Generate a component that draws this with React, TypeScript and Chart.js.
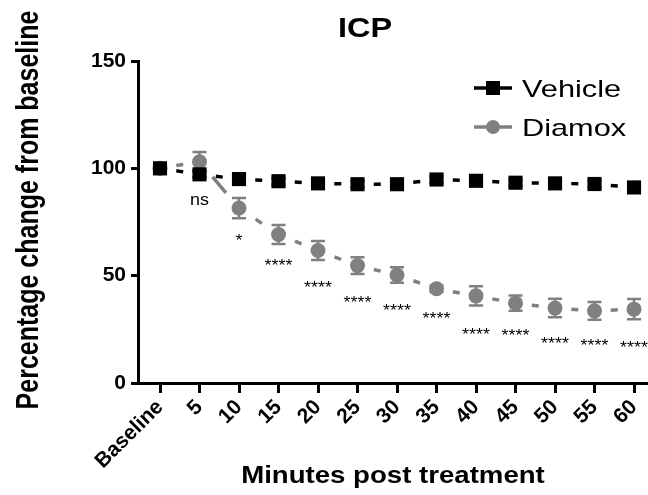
import React, { useEffect, useRef } from "react";
import { Chart, registerables } from "chart.js";

Chart.register(...registerables);

// ---- data ----
const xLabels = ["Baseline", "5", "10", "15", "20", "25", "30", "35", "40", "45", "50", "55", "60"];
const vehicleMean = [100, 97.2, 95, 94, 93, 92.6, 92.6, 94.8, 94.2, 93.3, 93, 92.7, 91.1];
const vehicleSem = [0, 1.5, 1.5, 1.5, 1.5, 1.5, 1.5, 1.5, 1.5, 1.5, 1.5, 1.5, 1.5];
const diamoxMean = [100, 103.1, 81.5, 69.2, 61.7, 54.7, 50.3, 43.9, 40.6, 37.2, 34.9, 33.6, 34.4];
const diamoxSem = [0, 4.5, 4.7, 4.4, 4.4, 3.9, 3.6, 1.5, 4.5, 3.6, 4.3, 4.1, 4.7];
const sigLabels = ["", "ns", "*", "****", "****", "****", "****", "****", "****", "****", "****", "****", "****"];
const sigLabelY = [null, 82.8, 63.8, 52.1, 42.1, 34.8, 31.2, 27.4, 20.1, 19.6, 15.7, 15.0, 13.9];
const yTicks = [0, 50, 100, 150];
const seriesNames = ["Vehicle", "Diamox"];
const chartTitle = "ICP";
const xTitle = "Minutes post treatment";
const yTitle = "Percentage change from baseline";

const FONT = "'Liberation Sans', Arial, Helvetica, sans-serif";
const BLACK = "#000000";
const GREY = "#808080";

function stretchedText(
  ctx: CanvasRenderingContext2D,
  text: string,
  x: number,
  y: number,
  font: string,
  sx: number,
  align: CanvasTextAlign,
  color: string,
  rotate = 0
) {
  ctx.save();
  ctx.translate(x, y);
  if (rotate) {
    ctx.rotate(rotate);
    ctx.scale(1, sx);
  } else {
    ctx.scale(sx, 1);
  }
  ctx.font = font;
  ctx.fillStyle = color;
  ctx.textAlign = align;
  ctx.textBaseline = "alphabetic";
  ctx.fillText(text, 0, 0);
  ctx.restore();
}

function segDash(ctx: any) {
  const p0 = ctx.p0;
  const p1 = ctx.p1;
  const L = Math.hypot(p1.x - p0.x, p1.y - p0.y);
  const D = Math.max(7, L - 40);
  return [D, 2000];
}
function segDashOffset(ctx: any) {
  const p0 = ctx.p0;
  const p1 = ctx.p1;
  const L = Math.hypot(p1.x - p0.x, p1.y - p0.y);
  const D = Math.max(7, L - 40);
  return -(L - D) / 2 + ctx.p0DataIndex * 1e-4;
}

const errorBarPlugin = {
  id: "errorBars",
  beforeDatasetsDraw(chart: any) {
    const ctx = chart.ctx;
    const yScale = chart.scales.y;
    const sems = [vehicleSem, diamoxSem];
    const means = [vehicleMean, diamoxMean];
    const colors = [BLACK, GREY];
    for (let d = 1; d >= 0; d--) {
      const meta = chart.getDatasetMeta(d);
      ctx.save();
      ctx.strokeStyle = colors[d];
      ctx.lineWidth = 2.5;
      meta.data.forEach((pt: any, i: number) => {
        const s = sems[d][i];
        if (!s) return;
        const yt = yScale.getPixelForValue(means[d][i] + s);
        const yb = yScale.getPixelForValue(means[d][i] - s);
        ctx.beginPath();
        ctx.moveTo(pt.x, yt);
        ctx.lineTo(pt.x, yb);
        ctx.moveTo(pt.x - 7, yt);
        ctx.lineTo(pt.x + 7, yt);
        ctx.moveTo(pt.x - 7, yb);
        ctx.lineTo(pt.x + 7, yb);
        ctx.stroke();
      });
      ctx.restore();
    }
  },
};

const decorPlugin = {
  id: "decor",
  afterDraw(chart: any) {
    const ctx = chart.ctx;
    const xs = chart.scales.x;
    const ys = chart.scales.y;
    const area = chart.chartArea;
    // significance labels
    sigLabels.forEach((t, i) => {
      const v = sigLabelY[i];
      if (!t || v === null) return;
      stretchedText(ctx, t, xs.getPixelForValue(i), ys.getPixelForValue(v), `16px ${FONT}`, 1.12, "center", BLACK);
    });
    // title
    stretchedText(ctx, chartTitle, 365, 37, `bold 28px ${FONT}`, 1.16, "center", BLACK);
    // x title
    stretchedText(ctx, xTitle, (area.left + area.right) / 2, 483, `bold 23px ${FONT}`, 1.2, "center", BLACK);
    // y title
    stretchedText(ctx, yTitle, 38, 210, `bold 25px ${FONT}`, 1.25, "center", BLACK, -Math.PI / 2);
    // legend
    const items = [
      { name: seriesNames[0], color: BLACK, style: "rect" },
      { name: seriesNames[1], color: GREY, style: "circle" },
    ];
    items.forEach((it, k) => {
      const cy = 88 + k * 39;
      ctx.save();
      ctx.strokeStyle = it.color;
      ctx.lineWidth = 3.5;
      ctx.beginPath();
      ctx.moveTo(474, cy);
      ctx.lineTo(512, cy);
      ctx.stroke();
      ctx.fillStyle = it.color;
      if (it.style === "rect") {
        ctx.fillRect(493 - 7, cy - 7, 14, 14);
      } else {
        ctx.beginPath();
        ctx.arc(493, cy, 7, 0, Math.PI * 2);
        ctx.fill();
      }
      ctx.restore();
      stretchedText(ctx, it.name, 522, cy + 9, `24px ${FONT}`, 1.28, "left", BLACK);
    });
  },
};

export default function App() {
  const ref = useRef<HTMLCanvasElement | null>(null);
  useEffect(() => {
    if (!ref.current) return;
    const chart = new Chart(ref.current, {
      type: "line",
      data: {
        datasets: [
          {
            label: seriesNames[0],
            data: vehicleMean.map((v, i) => ({ x: i, y: v })),
            borderColor: BLACK,
            backgroundColor: BLACK,
            borderWidth: 3.5,
            pointStyle: "rect",
            pointRadius: 10,
            pointBorderWidth: 0,
            pointBackgroundColor: BLACK,
            clip: false as any,
            segment: { borderDash: segDash, borderDashOffset: segDashOffset },
          } as any,
          {
            label: seriesNames[1],
            data: diamoxMean.map((v, i) => ({ x: i, y: v })),
            borderColor: GREY,
            backgroundColor: GREY,
            borderWidth: 3.5,
            pointStyle: "circle",
            pointRadius: 7.5,
            pointBorderWidth: 0,
            pointBackgroundColor: GREY,
            clip: false as any,
            segment: { borderDash: segDash, borderDashOffset: segDashOffset },
          } as any,
        ],
      },
      options: {
        responsive: false,
        animation: false,
        devicePixelRatio: 1,
        layout: { autoPadding: false, padding: { top: 61, left: 0, right: 0, bottom: 0 } },
        plugins: { legend: { display: false }, tooltip: { enabled: false }, title: { display: false } },
        scales: {
          x: {
            type: "linear",
            min: -0.557,
            max: 12.354,
            grid: { drawOnChartArea: false, drawTicks: true, tickLength: 10, tickWidth: 3, tickColor: BLACK },
            border: { display: true, width: 3, color: BLACK },
            afterBuildTicks: (axis: any) => {
              axis.ticks = xLabels.map((_, i) => ({ value: i }));
            },
            afterFit: (scale: any) => {
              scale.height = 112;
              scale.paddingLeft = 0;
              scale.paddingRight = 0;
            },
            ticks: {
              autoSkip: false,
              minRotation: 45,
              maxRotation: 45,
              padding: 2,
              color: BLACK,
              font: { family: FONT, size: 21, weight: "bold" },
              callback: (v: any) => xLabels[Math.round(Number(v))] ?? "",
            },
          },
          y: {
            type: "linear",
            min: 0,
            max: 150,
            grid: { drawOnChartArea: false, drawTicks: true, tickLength: 7, tickWidth: 3, tickColor: BLACK },
            border: { display: true, width: 3, color: BLACK },
            afterBuildTicks: (axis: any) => {
              axis.ticks = yTicks.map((v) => ({ value: v }));
            },
            afterFit: (scale: any) => {
              scale.width = 138;
              scale.paddingTop = 0;
              scale.paddingBottom = 0;
            },
            ticks: {
              padding: 5,
              color: BLACK,
              font: { family: FONT, size: 21, weight: "bold" },
            },
          },
        },
      } as any,
      plugins: [errorBarPlugin, decorPlugin],
    });
    return () => chart.destroy();
  }, []);
  return (
    <div style={{ position: "fixed", left: 0, top: 0, width: 648, height: 495, background: "#fff" }}>
      <canvas ref={ref} width={648} height={495} style={{ display: "block", width: 648, height: 495 }} />
    </div>
  );
}
